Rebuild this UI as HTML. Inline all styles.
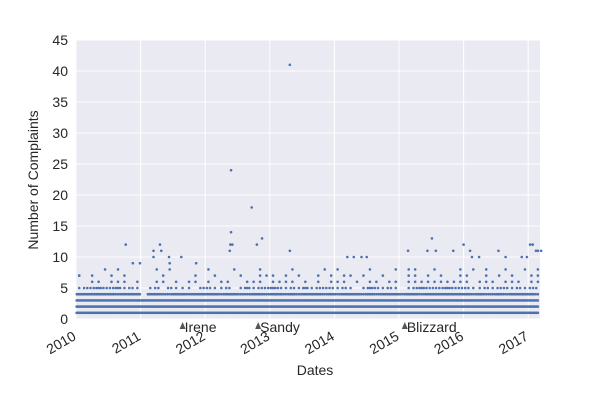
<!DOCTYPE html>
<html><head><meta charset="utf-8"><style>
body{margin:0;background:#fff;}
svg{display:block;font-family:"Liberation Sans",sans-serif;}
</style></head><body>
<svg id="chart" width="600" height="400" viewBox="0 0 600 400">
<rect x="76" y="40" width="464" height="279" fill="#eaeaf2"/>
<g id="grid"></g><g id="pts"></g><g id="axes"></g>
<text x="315" y="375" font-size="14" text-anchor="middle" fill="#262626">Dates</text>
<text transform="translate(38,180) rotate(-90)" font-size="14" text-anchor="middle" fill="#262626">Number of Complaints</text>
</svg>
<script>
const yTicks=[0,5,10,15,20,25,30,35,40,45];
const xTicks=[2010,2011,2012,2013,2014,2015,2016,2017];
// points per 0.1-year bin for each level, starting 2010.0
const levels=[1,2,3,4,5,6,7,8];
const occupancy=[
"555555555555555555555555555555555555555555555555555555555555545555555555",
"555555555555555555555555555555555555555555555555555555555555555555555555",
"555555555555555555555555555555555555555555555555555555555555555555555555",
"444544344404433443444434433443443434443434443434443443444444434334344443",
"122322312101202111022112013122321213122212101321210123222322211212212122",
"001101110100110101101011001110111101010111010110110111111111101110111011",
"101001010000010000100100010011101010010101101001000110101001100101010011",
"000010100000101000001000100010000100001010000100010110010001010100100101"];
const outYears=[2010.05,2010.77,2010.88,2010.99,2011.2,2011.2,2011.3,2011.32,2011.44,2011.45,2011.63,2011.86,2012.4,2012.4,2012.39,2012.42,2012.38,2012.72,2012.8,2012.88,2013.31,2013.31,2014.2,2014.3,2014.42,2014.5,2015.14,2015.44,2015.51,2015.57,2015.84,2016.0,2016.1,2016.13,2016.24,2016.54,2016.65,2016.9,2016.98,2017.03,2017.07,2017.12,2017.15,2017.2];
const outVals=[7,12,9,9,11,10,12,11,10,9,10,9,24,14,12,12,11,18,12,13,41,11,10,10,10,10,11,11,13,11,11,12,11,10,10,11,10,10,10,12,12,11,11,11];
const events=["Irene","Sandy","Blizzard"];
const eventYears=[2011.65,2012.82,2015.09];

const X0=76,X1=540,Y0=319,Y1=40;
const xs=y=>X0+(y-2010)*64.6;
const ys=v=>Y0-(v/45)*(Y0-Y1);
const NS="http://www.w3.org/2000/svg";
function mk(t,a,p){const e=document.createElementNS(NS,t);for(const k in a)e.setAttribute(k,a[k]);p.appendChild(e);return e;}
const grid=document.getElementById('grid'),pts=document.getElementById('pts'),axes=document.getElementById('axes');
yTicks.forEach(v=>{
 const l=mk('line',{x1:X0,x2:X1,y1:ys(v),y2:ys(v),stroke:'#fff','stroke-width':1},grid);
 
 
 const t=mk('text',{x:X0-8,y:ys(v)+5,'font-size':14,'text-anchor':'end',fill:'#262626'},axes);
 t.textContent=v;
 
 
});
xTicks.forEach(yr=>{
 const l=mk('line',{x1:xs(yr),x2:xs(yr),y1:Y1,y2:Y0,stroke:'#fff','stroke-width':1},grid);
 
 
 const t=mk('text',{transform:`translate(${xs(yr)+1},${Y0+20}) rotate(-30)`,'font-size':14,'text-anchor':'end',fill:'#262626'},axes);
 t.textContent=yr;
 
 
});
levels.forEach((lv,i)=>{
 const s=occupancy[i];
 for(let b=0;b<s.length;b++){const n=+s[b];if(!n)continue;
  for(let k=0;k<n;k++){const yr=2010+b*0.1+(k+0.5)*0.1/n;if(xs(yr)>X1-1)continue;
   const c=mk('circle',{cx:xs(yr),cy:ys(lv),r:1.3,fill:'#4c72b0'},pts);
   
   }
 }
});
outYears.forEach((yr,i)=>{
 const c=mk('circle',{cx:xs(yr),cy:ys(outVals[i]),r:1.3,fill:'#4c72b0'},pts);
 
 
});
events.forEach((n,i)=>{
 const x=xs(eventYears[i]);
 const p=mk('polygon',{points:`${x-3},${Y0+10} ${x+3},${Y0+10} ${x},${Y0+3}`,fill:'#555'},axes);
 
 
 const t=mk('text',{x:x+2,y:Y0+13,'font-size':14,fill:'#262626'},axes);
 t.textContent=n;
 
 
});
</script>
</body></html>
